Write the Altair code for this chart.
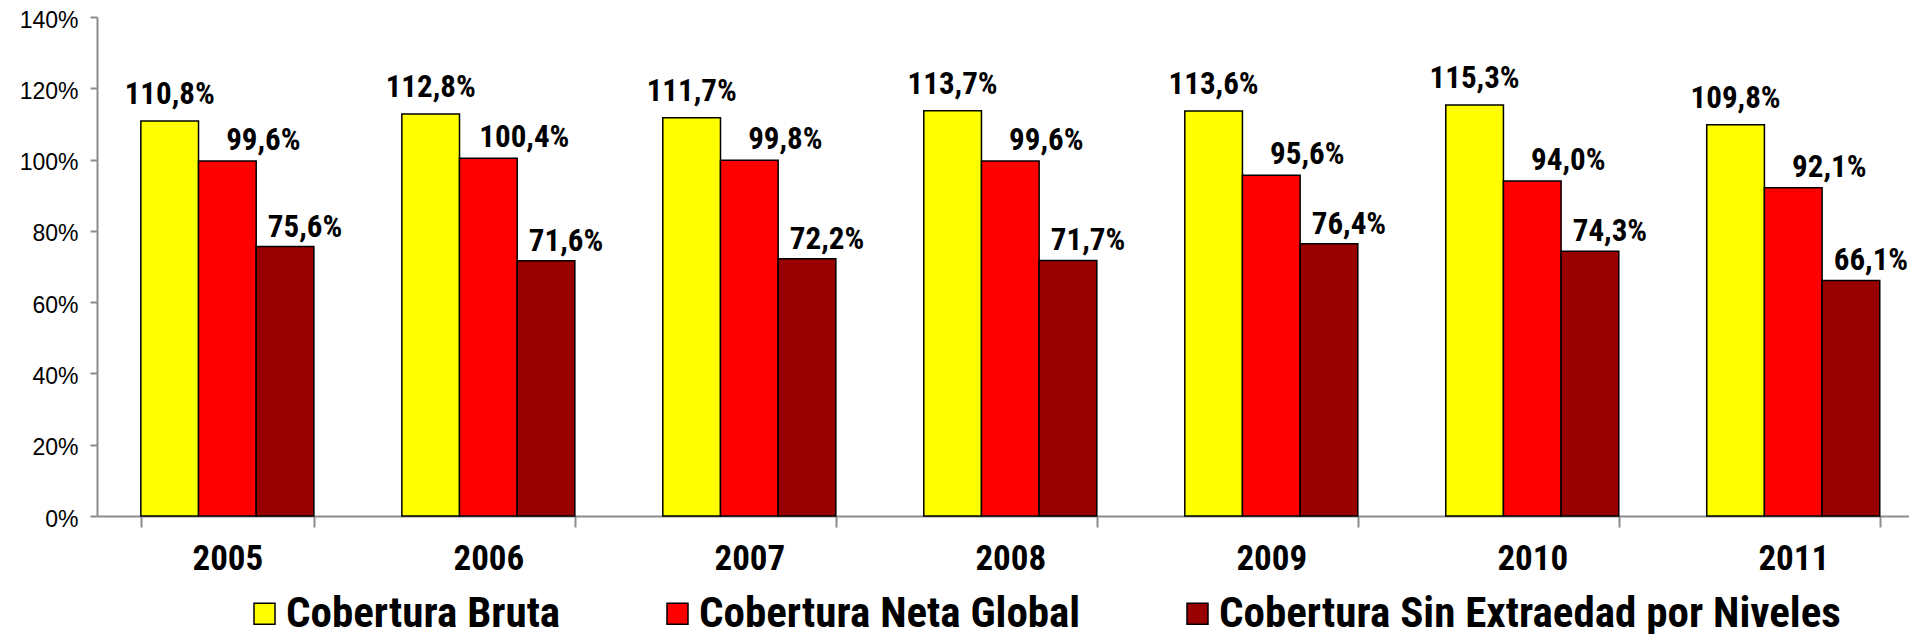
import altair as alt
import pandas as pd

years = ["2005", "2006", "2007", "2008", "2009", "2010", "2011"]
series = ["Cobertura Bruta", "Cobertura Neta Global", "Cobertura Sin Extraedad por Niveles"]
bruta = [110.8, 112.8, 111.7, 113.7, 113.6, 115.3, 109.8]
neta = [99.6, 100.4, 99.8, 99.6, 95.6, 94.0, 92.1]
sin_extraedad = [75.6, 71.6, 72.2, 71.7, 76.4, 74.3, 66.1]
colors = ["#FFFF00", "#FF0000", "#990000"]
y_ticks = [0, 20, 40, 60, 80, 100, 120, 140]

rows = []
for s, vals in zip(series, [bruta, neta, sin_extraedad]):
    for y, v in zip(years, vals):
        rows.append({"year": y, "series": s, "value": v,
                     "label": f"{v:.1f}".replace(".", ",") + "%"})
df = pd.DataFrame(rows)

NARROW = "Roboto Condensed, Liberation Sans, sans-serif"
AXIS_GREY = "#8c8c8c"

base = alt.Chart(df).encode(
    x=alt.X("year:N", sort=years,
            scale=alt.Scale(paddingInner=0.337, paddingOuter=0.14, align=0.6),
            axis=alt.Axis(title=None, labelAngle=0, tickBand="extent", tickSize=11,
                          domainColor=AXIS_GREY, domainWidth=2, tickColor=AXIS_GREY,
                          tickWidth=2, labelFont=NARROW, labelFontWeight="bold",
                          labelFontSize=35, labelColor="black", labelPadding=14)),
    xOffset=alt.XOffset("series:N", scale=alt.Scale(domain=series, paddingInner=0, paddingOuter=0)),
    y=alt.Y("value:Q", scale=alt.Scale(domain=[0, 140], nice=False),
            axis=alt.Axis(title=None, values=y_ticks, labelExpr="datum.value + '%'",
                          grid=False, domainColor=AXIS_GREY, domainWidth=2,
                          tickColor=AXIS_GREY, tickWidth=2, tickSize=7,
                          labelFont="Liberation Sans, Arial, sans-serif", labelFontSize=23,
                          labelColor="black", labelPadding=12, labelOffset=3)),
)

bars = base.mark_bar(stroke="black", strokeWidth=1.5).encode(
    color=alt.Color("series:N", scale=alt.Scale(domain=series, range=colors),
                    legend=alt.Legend(orient="none", legendX=146, legendY=575,
                                      direction="horizontal", title=None,
                                      symbolType="square", symbolSize=441,
                                      symbolStrokeColor="black", symbolStrokeWidth=1.5,
                                      labelFont=NARROW, labelFontWeight="bold",
                                      labelFontSize=43, labelColor="black",
                                      labelOffset=0, columnPadding=95, labelLimit=1000))
)

layers = [bars]
for s, dx, dy in zip(series, [0, 36, 20], [-26, -20, -19]):
    layers.append(
        base.transform_filter(alt.datum.series == s).mark_text(
            dx=dx, dy=dy, font=NARROW, fontWeight="bold", fontSize=31,
            baseline="middle", align="center", color="black"
        ).encode(text="label:N")
    )

chart = alt.layer(*layers).properties(
    width=1812, height=499,
    autosize=alt.AutoSizeParams(type="none"),
    padding={"left": 89, "top": 9, "right": 0, "bottom": 118},
).configure_view(stroke=None)

chart.save("out.html", embed_options={"renderer": "svg", "actions": False})
